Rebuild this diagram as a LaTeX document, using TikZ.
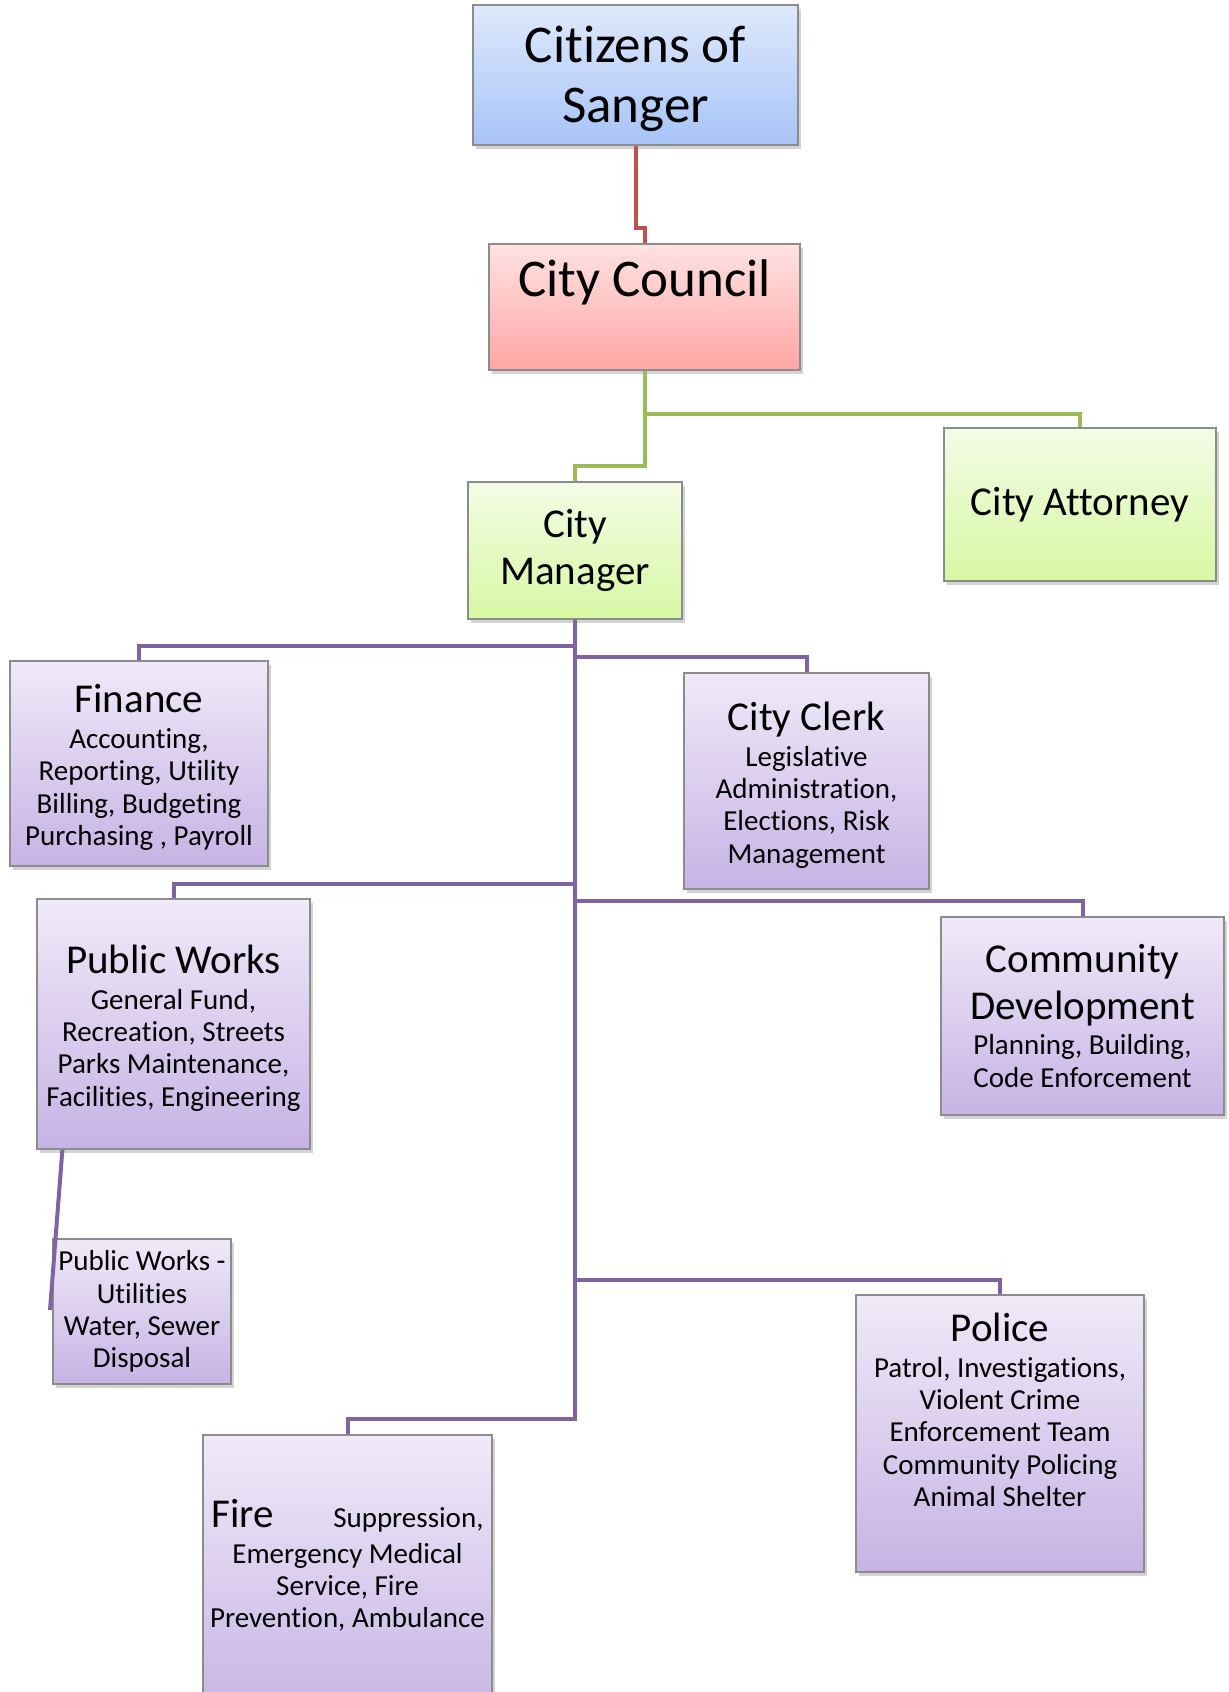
\documentclass[tikz,border=0pt]{standalone}
\usepackage{fontspec}
\setmainfont[Ligatures=NoCommon]{Carlito}
\usetikzlibrary{calc,shadows}

\definecolor{blueTop}{HTML}{DFE9FC}
\definecolor{blueBot}{HTML}{A6C4F7}
\definecolor{redTop}{HTML}{FFE2E2}
\definecolor{redBot}{HTML}{FFA6A4}
\definecolor{greenTop}{HTML}{F3FCE6}
\definecolor{greenBot}{HTML}{D7F8A3}
\definecolor{lilacTop}{HTML}{EFEAF8}
\definecolor{lilacBot}{HTML}{C7B3E5}
\definecolor{boxEdge}{HTML}{8C8C8C}
\definecolor{redWire}{HTML}{C0504D}
\definecolor{greenWire}{HTML}{9BBB59}
\definecolor{lilacWire}{HTML}{8064A2}

\lineskiplimit=-100pt

\begin{document}
\begin{tikzpicture}[x=0.5pt,y=-0.5pt,
    unit/.style={draw=boxEdge, line width=0.6pt, inner sep=0pt, align=center,
        drop shadow={shadow xshift=1.5pt, shadow yshift=-2pt, opacity=0.35}},
    bluebox/.style={unit, top color=blueTop, bottom color=blueBot},
    redbox/.style={unit, top color=redTop, bottom color=redBot},
    greenbox/.style={unit, top color=greenTop, bottom color=greenBot},
    lilacbox/.style={unit, top color=lilacTop, bottom color=lilacBot},
    bigtxt/.style={font=\fontsize{26.5}{30}\selectfont},
    midtxt/.style={font=\fontsize{20.5}{23.2}\selectfont},
    smalltxt/.style={font=\fontsize{14.5}{16.2}\selectfont},
    loose/.style={smalltxt, inner sep=0pt, align=center},
    wire/.style={line width=2pt}]
\newcommand{\deptname}[1]{{\fontsize{20.5}{23.2}\selectfont\rule{0pt}{18.3pt}#1}}
\newcommand{\deptplain}[1]{{\fontsize{20.5}{23.2}\selectfont #1}}

\useasboundingbox (0,0) rectangle (1228,1692);
\clip (0,0) rectangle (1228,1692);

% Citizens and Council
\node[bluebox, bigtxt, minimum width=162.5pt, minimum height=70pt]
    (citizens) at (635.5,75) {\rule{0pt}{21.8pt}Citizens of\\Sanger};
\node[redbox, minimum width=155.5pt, minimum height=63pt]
    (council) at (644.5,307) {};
\node[bigtxt, anchor=base, inner sep=0pt]
    (councilText) at ($(council.north)+(0,53)$) {City Council};

% Manager and Attorney
\node[greenbox, midtxt, minimum width=107pt, minimum height=68.5pt]
    (manager) at (575,550.5) {City\\Manager};
\node[greenbox, midtxt, minimum width=136pt, minimum height=76.5pt]
    (attorney) at (1080,504.5) {City Attorney};

% Departments
\node[lilacbox, smalltxt, minimum width=129pt, minimum height=102.5pt]
    (finance) at (139,763.5)
    {\deptname{Finance}\\[1.6pt]Accounting,\\Reporting, Utility\\Billing, Budgeting\\Purchasing , Payroll};
\node[lilacbox, smalltxt, minimum width=122.5pt, minimum height=108pt]
    (clerk) at (806.5,781)
    {\deptname{City Clerk}\\[1.6pt]Legislative\\Administration,\\Elections, Risk\\Management};
\node[lilacbox, smalltxt, minimum width=136.5pt, minimum height=125pt]
    (pw) at (173.5,1024)
    {\deptname{Public Works}\\[1.6pt]General Fund,\\Recreation, Streets\\Parks Maintenance,\\Facilities, Engineering};
\node[lilacbox, smalltxt, minimum width=141.5pt, minimum height=99pt]
    (cd) at (1082.5,1016)
    {\deptplain{Community}\\[7pt]\deptplain{Development}\\[1.6pt]Planning, Building,\\Code Enforcement};
\node[lilacbox, smalltxt, minimum width=89pt, minimum height=72.5pt]
    (util) at (142,1311.5)
    {Public Works -\\Utilities\\Water, Sewer\\Disposal};
\node[lilacbox, minimum width=144pt, minimum height=138.5pt]
    (police) at (1000,1433.5) {};
\node[loose, anchor=north] (policeText) at ($(police.north)+(0,10)$)
    {\deptname{Police}\\[1.6pt]Patrol, Investigations,\\Violent Crime\\Enforcement Team\\Community Policing\\Animal Shelter};
\node[lilacbox, minimum width=144.5pt, minimum height=142.5pt]
    (fire) at (347.5,1577.5) {};
\node[loose, anchor=north] (fireText) at ($(fire.north)+(0,56)$)
    {\deptname{Fire}\hspace{29.7pt}Suppression,\\[1.6pt]Emergency Medical\\Service, Fire\\Prevention, Ambulance};

% Citizens to Council
\draw[wire, redWire] (citizens.south) |- ($(council.north)+(0,-15)$) -- (council.north);
% Council to Manager, Attorney
\draw[wire, greenWire] (council.south) |- ($(manager.north)+(0,-15)$) -- (manager.north);
\draw[wire, greenWire] ($(council.south)+(0,43)$) -| (attorney.north);
% Manager to departments
\coordinate (trunkEnd) at ($(manager.south |- fire.north)+(0,-15)$);
\draw[wire, lilacWire] (manager.south) -- (trunkEnd) -| (fire.north);
\foreach \dept/\gap in {finance/14,clerk/15,pw/14,cd/15,police/14}
    \draw[wire, lilacWire] ($(manager.south |- \dept.north)+(0,-\gap)$) -| (\dept.north);
% Utilities under Public Works
\coordinate (utilTail) at (50,1310);
\draw[wire, lilacWire] ($(pw.south west)+(26,0)$) -- (utilTail);
\end{tikzpicture}
\end{document}
